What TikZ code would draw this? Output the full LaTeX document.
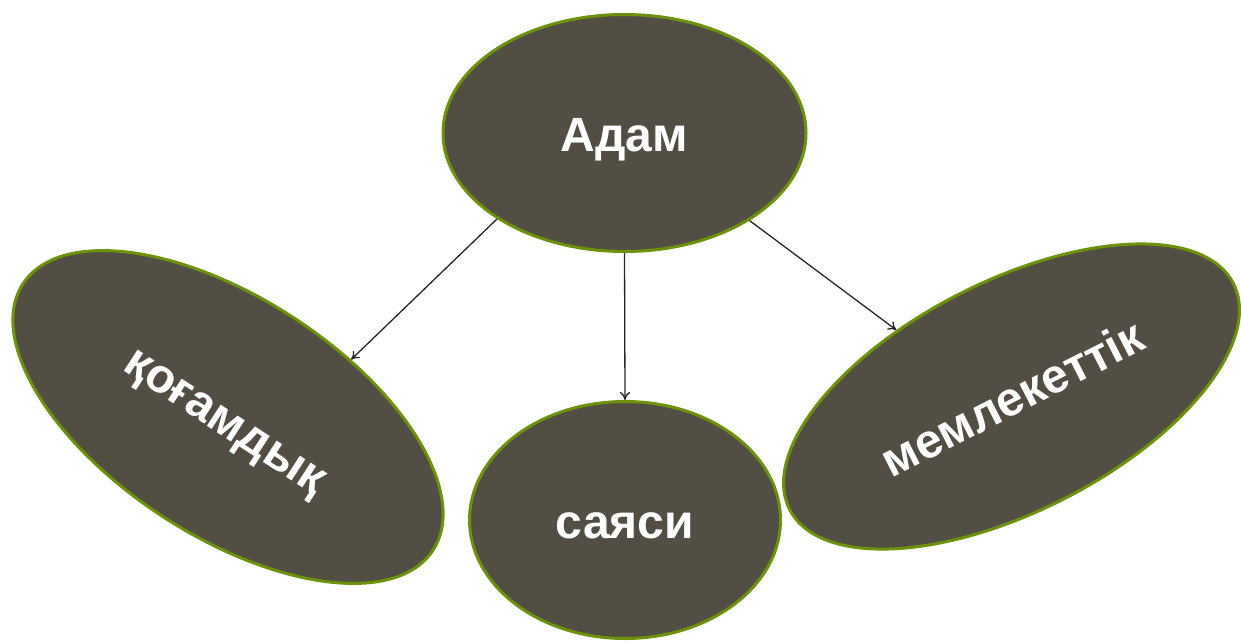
\documentclass[tikz,border=0pt]{standalone}
\usepackage{fontspec}
\setmainfont{Liberation Sans}
\usetikzlibrary{arrows.meta,shapes.geometric}
\definecolor{bubblefill}{RGB}{83,78,68}
\definecolor{bubbleedge}{RGB}{108,145,10}

\begin{document}
\begin{tikzpicture}[x=1pt,y=-1pt,
  bubble/.style={ellipse,draw=bubbleedge,line width=3pt,fill=bubblefill,
                 inner sep=0pt,text height=37pt,text depth=0pt,text=white,
                 font=\fontsize{48}{56}\selectfont\bfseries},
  arrow/.style={-{To[length=8pt,width=10pt]},line width=1.3pt,black!85}]
\useasboundingbox (0,0) rectangle (1241,641);

\node[bubble,minimum width=363pt,minimum height=237pt] (adam) at (624.5,133) {Адам};
\node[bubble,minimum width=311pt,minimum height=237pt] (sayasi) at (625,520) {саяси};
\node[bubble,rotate=-33,minimum width=489pt,minimum height=238pt] (qogam) at (228,417) {қоғамдық};
\node[bubble,rotate=27,minimum width=498pt,minimum height=230pt] (memleket) at (1011.5,396.5) {мемлекеттік};

\draw[arrow] (adam.214) -- (qogam.58);
\draw[arrow] (adam.south) -- (sayasi.north);
\draw[arrow] (adam.325) -- (memleket.123);
\end{tikzpicture}
\end{document}
